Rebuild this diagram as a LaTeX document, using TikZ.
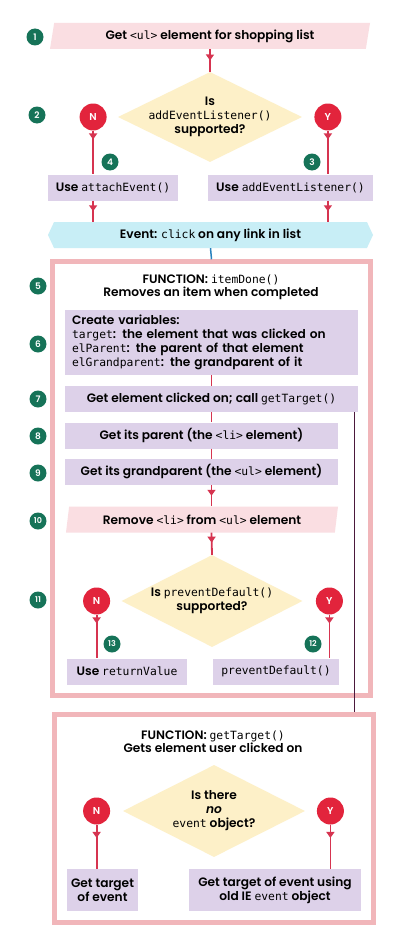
\documentclass[tikz,border=0pt]{standalone}
\usepackage{fontspec}
\setmainfont{Poppins}[BoldFont={Poppins SemiBold}]
\setmonofont{DejaVu Sans Mono}[Scale=0.93]
\usetikzlibrary{shapes, arrows.meta, positioning, calc, decorations.markings}

\definecolor{badgegreen}{RGB}{22,115,88}
\definecolor{ynred}{RGB}{226,36,60}
\definecolor{linered}{RGB}{214,52,80}
\definecolor{parapink}{RGB}{250,222,226}
\definecolor{diamondyellow}{RGB}{253,240,200}
\definecolor{boxlilac}{RGB}{221,209,233}
\definecolor{eventcyan}{RGB}{200,238,246}
\definecolor{framepink}{RGB}{241,182,186}
\definecolor{linkblue}{RGB}{40,130,190}
\definecolor{calldark}{RGB}{75,25,60}

\newcommand\jscode[1]{{\mdseries\ttfamily #1}}

\tikzset{
  badge/.style={circle, fill=badgegreen, text=white, inner sep=0pt, minimum size=17pt, font=\bfseries\fontsize{9}{9}\selectfont},
  choice/.style={circle, fill=ynred, text=white, inner sep=0pt, minimum size=27pt, font=\bfseries\fontsize{10}{10}\selectfont},
  action/.style={rectangle, fill=boxlilac, inner sep=0pt, minimum height=26pt, align=center},
  io/.style={trapezium, trapezium left angle=72, trapezium right angle=108, trapezium stretches body, fill=parapink, inner sep=0pt, minimum height=26pt},
  decision/.style={diamond, fill=diamondyellow, inner sep=0pt},
  banner/.style={signal, signal to=east and west, signal pointer angle=130, fill=eventcyan, inner sep=0pt, minimum height=26pt},
  frame/.style={rectangle, draw=framepink, line width=4.5pt, fill=white},
  flow/.style={draw=linered, line width=1.8pt},
  midarrow/.style={flow, postaction={decorate}, decoration={markings, mark=at position #1 with {\arrow[color=linered]{Triangle[width=8pt,length=6pt]}}}}
}

\begin{document}
\begin{tikzpicture}[x=1pt, y=-1pt, font=\bfseries\fontsize{12.2}{14}\selectfont]
    \fill[white] (0,0) rectangle (419,942);
    \useasboundingbox (0,0) rectangle (419,942);

    % Top of the flow
    \node (b1) [badge] at (35,37) {1};
    \node (getul) [io, minimum width=320pt] at (210,36) {Get \jscode{<ul>} element for shopping list};
    \node (b2) [badge] at (37,115) {2};
    \node (supp) [decision, minimum width=184pt, minimum height=90pt, label={[align=center]center:{Is\\\jscode{addEventListener()}\\supported?}}] at (210,117) {};
    \node (suppno) [choice, left=11pt of supp] {N};
    \node (suppyes) [choice, right=12pt of supp] {Y};
    \node (b4) [badge] at (110,162) {4};
    \node (b3) [badge] at (312,162) {3};
    \node (attach) [action, minimum width=130pt] at (113,187.5) {Use \jscode{attachEvent()}};
    \node (addlist) [action, minimum width=165pt] at (290.5,187.5) {Use \jscode{addEventListener()}};
    \node (click) [banner, minimum width=325pt] at (210.5,235) {Event: \jscode{click} on any link in list};

    % FUNCTION: itemDone()
    \node (itemdone) [frame, minimum width=318pt, minimum height=434pt] at (211.5,478.5) {};
    \node (itemtitle) [align=center, font=\bfseries\fontsize{12.2}{13}\selectfont] at (211,287.5) {FUNCTION: \jscode{itemDone()}\\Removes an item when completed};
    \node (b5) [badge] at (38,286) {5};
    \node (vars) [action, minimum width=293pt, minimum height=65pt, inner xsep=7pt, text width=279pt, align=left] at (211.5,342.5) {Create variables:\\\jscode{target}: the element that was clicked on\\\jscode{elParent}: the parent of that element\\\jscode{elGrandparent}: the grandparent of it};
    \node (b6) [badge] at (38,344) {6};
    \node (call) [action, minimum width=293pt] at (211.5,399) {Get element clicked on; call \jscode{getTarget()}};
    \node (b7) [badge] at (38,399) {7};
    \node (parent) [action, minimum width=273pt] at (201.5,435.5) {Get its parent (the \jscode{<li>} element)};
    \node (b8) [badge] at (38,436) {8};
    \node (grand) [action, minimum width=273pt] at (201.5,472) {Get its grandparent (the \jscode{<ul>} element)};
    \node (b9) [badge] at (38,473) {9};
    \node (remove) [io, minimum width=272pt] at (202,519.5) {Remove \jscode{<li>} from \jscode{<ul>} element};
    \node (b10) [badge, font=\bfseries\fontsize{8}{8}\selectfont] at (38,521) {10};
    \node (prevent) [decision, minimum width=181pt, minimum height=92pt, label={[align=center]center:{Is \jscode{preventDefault()}\\supported?}}] at (212,601) {};
    \node (b11) [badge, font=\bfseries\fontsize{8}{8}\selectfont] at (38,600) {11};
    \node (preventno) [choice, left=11pt of prevent] {N};
    \node (preventyes) [choice, right=13pt of prevent] {Y};
    \node (b13) [badge, font=\bfseries\fontsize{8}{8}\selectfont] at (112,644) {13};
    \node (b12) [badge, font=\bfseries\fontsize{8}{8}\selectfont] at (313,644) {12};
    \node (retval) [action, minimum width=120pt] at (127,671.5) {Use \jscode{returnValue}};
    \node (prevdef) [action, minimum width=126pt] at (276,671.5) {\jscode{preventDefault()}};

    % FUNCTION: getTarget()
    \node (gettarget) [frame, minimum width=319pt, minimum height=208pt] at (214,818.5) {};
    \node (gettitle) [align=center, font=\bfseries\fontsize{12.2}{13}\selectfont] at (213,741.5) {FUNCTION: \jscode{getTarget()}\\Gets element user clicked on};
    \node (noevent) [decision, minimum width=182pt, minimum height=92pt, label={[align=center]center:{Is there\\\textit{no}\\\jscode{event} object?}}] at (214,811) {};
    \node (noeventno) [choice, left=12.5pt of noevent] {N};
    \node (noeventyes) [choice, right=11.5pt of noevent] {Y};
    \node (targetev) [action, minimum width=71pt, minimum height=42pt] at (102.5,890) {Get target\\of event};
    \node (targetie) [action, minimum width=172pt, minimum height=42pt] at (275,890) {Get target of event using\\old IE \jscode{event} object};

    % Arrows
    \draw[midarrow=0.5] (getul.south) -- (supp.north);
    \draw[midarrow=0.2] (suppno) -- (suppno |- attach.north);
    \draw[midarrow=0.2] (suppyes) -- (suppyes |- addlist.north);
    \draw[midarrow=0.5] (suppno |- attach.south) -- (suppno |- click.north);
    \draw[midarrow=0.5] (suppyes |- addlist.south) -- (suppyes |- click.north);
    \draw[linkblue, line width=1.5pt] (click.south) -- (itemdone.north);
    \draw[flow] (vars.south) -- (call.north);
    \draw[flow] (call.south) -- (call.south |- parent.north);
    \draw[flow] (call.south |- parent.south) -- (call.south |- grand.north);
    \draw[midarrow=0.5] (call.south |- grand.south) -- (call.south |- remove.north);
    \draw[midarrow=0.45] (call.south |- remove.south) -- (prevent.north);
    \draw[midarrow=0.2] (preventno) -- (preventno |- retval.north);
    \draw[midarrow=0.2] (preventyes) -- (preventyes |- prevdef.north);
    \draw[midarrow=0.3] (noeventno) -- (noeventno |- targetev.north);
    \draw[midarrow=0.3] (noeventyes) -- (noeventyes |- targetie.north);
    \draw[calldark, line width=1.2pt] ([xshift=-4pt]call.south east) -- ([xshift=-4pt]call.south east |- gettarget.north);
\end{tikzpicture}
\end{document}
